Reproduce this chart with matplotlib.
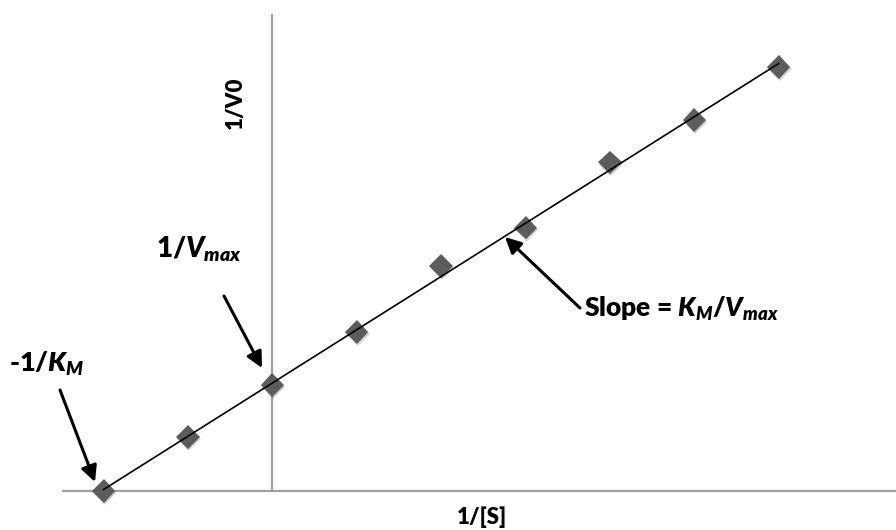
import matplotlib
matplotlib.use("Agg")
import matplotlib.pyplot as plt
import matplotlib.patheffects as pe
import numpy as np

# Double-reciprocal (Lineweaver-Burk) data
inv_s = [-2, -1, 0, 1, 2, 3, 4, 5, 6]
inv_v0 = [0.0, 1.02, 2.0, 3.01, 4.25, 4.98, 6.21, 7.01, 8.01]

x_label = "1/[S]"
y_label = "1/V0"
label_km = r"-1/$K_M$"
label_vmax = r"1/$V_{max}$"
label_slope = r"Slope = $K_M/V_{max}$"

plt.rcParams["font.family"] = ["Lato", "DejaVu Sans"]
plt.rcParams["font.weight"] = "heavy"
plt.rcParams["mathtext.fontset"] = "custom"
plt.rcParams["mathtext.it"] = "Lato:italic:heavy"
plt.rcParams["mathtext.rm"] = "Lato:heavy"
plt.rcParams["mathtext.bf"] = "Lato:heavy"

W, H = 896, 530
fig = plt.figure(figsize=(W / 100, H / 100), dpi=100)
ax = fig.add_axes([0, 0, 1, 1])

# pixel geometry of the data frame
x0_px, y0_px = 272.3, 491.0
sx, sy = 84.4, 52.9
ax.set_xlim(-x0_px / sx, (W - x0_px) / sx)
ax.set_ylim(-(H - y0_px) / sy, y0_px / sy)
for s in ax.spines.values():
    s.set_visible(False)
ax.set_xticks([])
ax.set_yticks([])


def px(x, y):
    """figure fraction from pixel position measured from the top-left"""
    return (x / W, 1 - y / H)


# axes through the origin
axis_col = "#a0a0a0"
ax.plot([ax.get_xlim()[0] + 62 / sx, ax.get_xlim()[1]], [0, 0],
        color=axis_col, lw=1.6, solid_capstyle="butt", zorder=1)
ax.plot([0, 0], [0, (y0_px - 14) / sy],
        color=axis_col, lw=1.6, solid_capstyle="butt", zorder=1)

# least-squares fit line
xs = np.array(inv_s, dtype=float)
ys = np.array(inv_v0, dtype=float)
m, b = np.polyfit(xs, ys, 1)
ax.plot([xs.min(), xs.max()], [m * xs.min() + b, m * xs.max() + b],
        color="black", lw=1.2, zorder=3)

# data markers with a soft drop shadow
shadow = [pe.SimplePatchShadow(offset=(0.8, -1.6), shadow_rgbFace="#000000", alpha=0.12),
          pe.SimplePatchShadow(offset=(0.4, -0.8), shadow_rgbFace="#000000", alpha=0.12),
          pe.Normal()]
ax.plot(xs, ys, linestyle="none", marker="D", ms=12, color="#5c5c5c",
        markeredgewidth=0, zorder=2, path_effects=shadow)

# axis titles
fig.text(*px(482, 517), x_label, ha="center", va="center", fontsize=16)
fig.text(*px(235, 103), y_label, ha="center", va="center", rotation=90, fontsize=16)

# annotations
arrow = dict(arrowstyle="-|>", lw=2.2, color="black", mutation_scale=24,
             shrinkA=0, shrinkB=0)
ax.annotate("", xy=px(95, 482), xycoords="figure fraction",
            xytext=px(60, 390), textcoords="figure fraction", arrowprops=arrow)
ax.annotate("", xy=px(262, 368), xycoords="figure fraction",
            xytext=px(224, 296), textcoords="figure fraction", arrowprops=arrow)
ax.annotate("", xy=px(505, 237), xycoords="figure fraction",
            xytext=px(580, 308), textcoords="figure fraction", arrowprops=arrow)

fig.text(*px(9, 372), label_km, ha="left", va="baseline", fontsize=19.5)
fig.text(*px(156, 258), label_vmax, ha="left", va="baseline", fontsize=20)
fig.text(*px(584, 317), label_slope, ha="left", va="baseline", fontsize=19)

fig.savefig("out.png", dpi=100, facecolor="white")
